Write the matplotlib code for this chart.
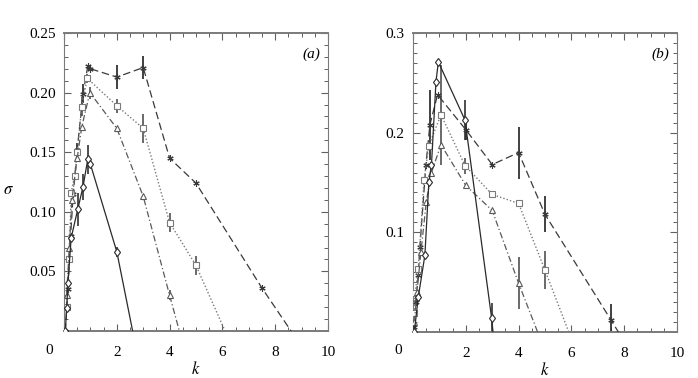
import matplotlib
matplotlib.use("Agg")
import matplotlib.pyplot as plt
from matplotlib.ticker import MultipleLocator

plt.rcParams['font.family'] = ['Liberation Serif', 'DejaVu Serif']
plt.rcParams['mathtext.fontset'] = 'stix'

# ---------------- panel (a) data ----------------
a_star_k = [0.05, 0.15, 0.25, 0.35, 0.5, 0.72, 0.9, 1.0, 2, 3, 4, 5, 7.5, 8.6]
a_star_s = [0.0, 0.035, 0.08, 0.115, 0.152, 0.199, 0.222, 0.220, 0.213, 0.221, 0.145, 0.124, 0.036, 0.0]
a_star_e = [0, 0, 0, 0, 0.006, 0.008, 0, 0, 0.010, 0.010, 0, 0, 0, 0]

a_sq_k = [0.1, 0.2, 0.27, 0.4, 0.5, 0.67, 0.88, 2, 3, 4, 5, 6.1]
a_sq_s = [0.02, 0.06, 0.116, 0.13, 0.15, 0.188, 0.212, 0.189, 0.170, 0.091, 0.055, 0.0]
a_sq_e = [0, 0, 0, 0, 0, 0.008, 0.004, 0.006, 0.012, 0.008, 0.008, 0]

a_tri_k = [0.1, 0.2, 0.3, 0.5, 0.67, 0.98, 2, 3, 4, 4.37]
a_tri_s = [0.03, 0.07, 0.11, 0.145, 0.171, 0.200, 0.170, 0.113, 0.030, 0.0]
a_tri_e = [0, 0, 0, 0, 0, 0.005, 0, 0, 0.004, 0]

a_dia_k = [0.05, 0.1, 0.15, 0.27, 0.52, 0.72, 0.9, 1.0, 2, 2.6]
a_dia_s = [0.0, 0.019, 0.040, 0.078, 0.102, 0.121, 0.144, 0.140, 0.0665, 0.0]
a_dia_e = [0, 0, 0, 0, 0.014, 0.011, 0.012, 0, 0.004, 0]

# ---------------- panel (b) data ----------------
b_star_k = [0.03, 0.1, 0.2, 0.26, 0.49, 0.64, 0.93, 2, 3, 4, 5, 7.5, 7.78]
b_star_s = [0.005, 0.03, 0.057, 0.085, 0.168, 0.208, 0.238, 0.203, 0.168, 0.180, 0.118, 0.012, 0.0]
b_star_e = [0, 0, 0, 0, 0, 0.035, 0, 0.01, 0, 0.026, 0.018, 0.016, 0]

b_sq_k = [0.03, 0.08, 0.2, 0.42, 0.6, 1.06, 1.97, 3, 4, 5, 5.9]
b_sq_s = [0.019, 0.039, 0.063, 0.153, 0.187, 0.218, 0.167, 0.138, 0.129, 0.062, 0.0]
b_sq_e = [0, 0, 0, 0, 0, 0.05, 0.008, 0, 0, 0.019, 0]

b_tri_k = [0.05, 0.15, 0.3, 0.5, 0.7, 1.06, 2, 3, 4, 4.72]
b_tri_s = [0.01, 0.04, 0.08, 0.13, 0.16, 0.188, 0.147, 0.122, 0.049, 0.0]
b_tri_e = [0, 0, 0, 0, 0, 0, 0, 0, 0.026, 0]

b_dia_k = [0.05, 0.2, 0.45, 0.6, 0.7, 0.87, 0.96, 1.97, 2.98, 3.03]
b_dia_s = [0.0, 0.035, 0.077, 0.150, 0.168, 0.251, 0.271, 0.2126, 0.0137, 0.0]
b_dia_e = [0, 0, 0, 0, 0, 0, 0, 0.02, 0.015, 0]

x_ticks = [0, 2, 4, 6, 8, 10]
a_yticks = [0.05, 0.10, 0.15, 0.20, 0.25]
b_yticks = [0.1, 0.2, 0.3]

fig = plt.figure(figsize=(6.98, 3.78), dpi=100)
axa = fig.add_axes([64/698, 1-331/378, 264/698, 298/378])
axb = fig.add_axes([413/698, 1-332/378, 264/698, 299/378])

styles = {
    'star': dict(marker=(6, 2, 0), ls=(0, (6, 3)), color='#3a3a3a', mfc='none', ms=4.5, lw=0.9, ecol='#202020'),
    'sq':   dict(marker='s', ls=(0, (1, 1.5)), color='#7a7a7a', mfc='white', ms=4.5, lw=1.0, ecol='#505050'),
    'tri':  dict(marker='^', ls=(0, (5, 2, 1, 2)), color='#5a5a5a', mfc='white', ms=4.5, lw=0.9, ecol='#505050'),
    'dia':  dict(marker='d', ls='-', color='#2a2a2a', mfc='white', ms=4.5, lw=0.9, ecol='#303030'),
}

def draw(ax, k, s, e, st):
    n = len(k)
    me = list(range(n - 1)) if s[-1] == 0 and k[-1] > 2 else list(range(n))
    ax.plot(k, s, linestyle=st['ls'], color=st['color'], lw=st['lw'],
            marker=st['marker'], ms=st['ms'], mfc=st['mfc'], mec=st['color'],
            mew=0.8, markevery=me, zorder=3)
    ek = [kk for kk, ee in zip(k, e) if ee > 0]
    es = [ss for ss, ee in zip(s, e) if ee > 0]
    ee_ = [ee for ee in e if ee > 0]
    if ek:
        ax.errorbar(ek, es, yerr=ee_, fmt='none', ecolor=st['ecol'], elinewidth=1.2,
                    capsize=0, zorder=2)

draw(axa, a_star_k, a_star_s, a_star_e, styles['star'])
draw(axa, a_sq_k, a_sq_s, a_sq_e, styles['sq'])
draw(axa, a_tri_k, a_tri_s, a_tri_e, styles['tri'])
draw(axa, a_dia_k, a_dia_s, a_dia_e, styles['dia'])

draw(axb, b_star_k, b_star_s, b_star_e, styles['star'])
draw(axb, b_sq_k, b_sq_s, b_sq_e, styles['sq'])
draw(axb, b_tri_k, b_tri_s, b_tri_e, styles['tri'])
draw(axb, b_dia_k, b_dia_s, b_dia_e, styles['dia'])

for ax, yt, ymax, yminor, lab in [(axa, a_yticks, 0.25, 0.01, '(a)'),
                                   (axb, b_yticks, 0.3, 0.01, '(b)')]:
    ax.set_xlim(0, 10)
    ax.set_ylim(0, ymax)
    ax.set_xticks(x_ticks)
    ax.set_xticklabels([''] + [str(t) for t in x_ticks[1:]])
    ax.xaxis.set_minor_locator(MultipleLocator(0.5))
    ax.set_yticks(yt)
    ax.set_yticklabels(['%.2f' % t if ax is axa else '%.1f' % t for t in yt])
    ax.yaxis.set_minor_locator(MultipleLocator(yminor))
    ax.tick_params(which='both', direction='in', top=True, right=True,
                   labelsize=11, color='#606060')
    ax.tick_params(axis='x', which='major', pad=11)
    ax.tick_params(axis='y', which='major', pad=6)
    ax.tick_params(which='major', length=5, width=0.8)
    ax.tick_params(which='minor', length=3, width=0.7)
    for side, sp in ax.spines.items():
        sp.set_color('#7a7a7a')
        sp.set_linewidth(1.4 if side in ('top', 'bottom') else 0.8)
    ax.text(0.97, 0.93, lab, transform=ax.transAxes, ha='right', va='center',
            fontsize=11, fontstyle='italic')
    ax.annotate('0', xy=(0, 0), xycoords='axes fraction', xytext=(-15, -19),
                textcoords='offset pixels', ha='center', va='center', fontsize=11)
    ax.set_xlabel('$k$', fontsize=12, labelpad=1)

fig.text(3/698, 1-190/378, r'$\sigma$', fontsize=12, ha='left', va='center')

fig.savefig('out.png', dpi=100)
